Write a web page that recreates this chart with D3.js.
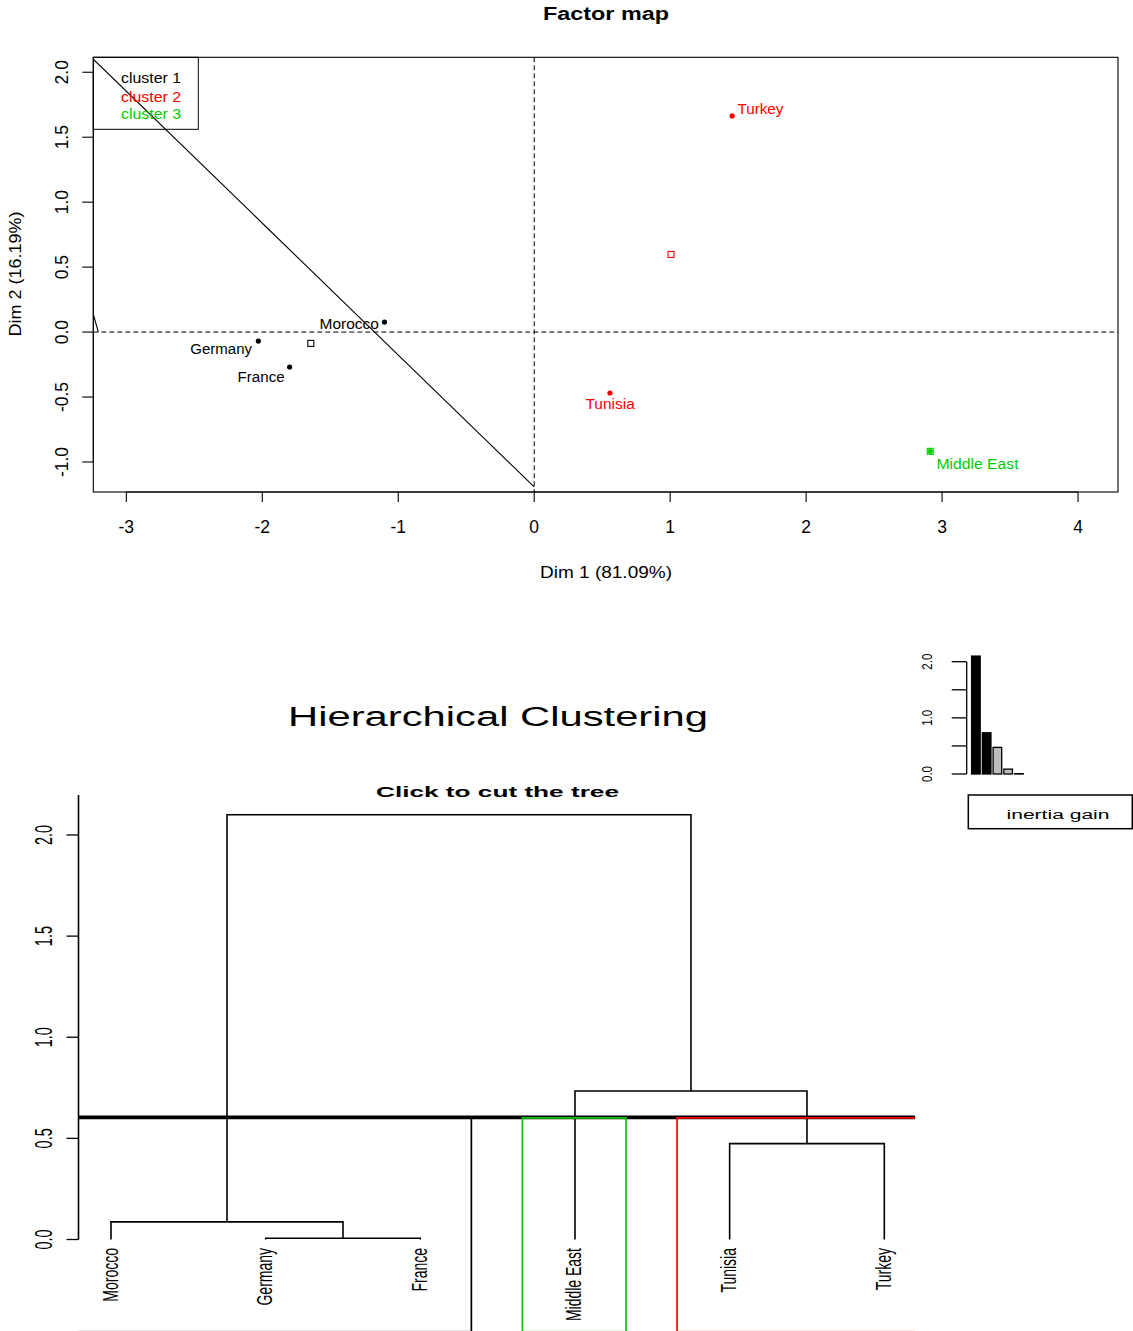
<!DOCTYPE html>
<html>
<head>
<meta charset="utf-8">
<script src="https://cdn.jsdelivr.net/npm/d3@7"></script>
<style>
  html, body { margin: 0; padding: 0; background: #fff; }
  svg { display: block; font-family: "Liberation Sans", Arial, Helvetica, sans-serif; }
</style>
</head>
<body>
<svg id="chart" width="1133" height="1331"></svg>
<script>
// ---------------- DATA ----------------
// Factor map (individuals)
const countries = ["Germany", "France", "Morocco", "Tunisia", "Turkey", "Middle East"];
const dim1 = [-2.029, -1.799, -1.101, 0.557, 1.456, 2.913];
const dim2 = [-0.069, -0.269, 0.077, -0.469, 1.664, -0.918];
const clusterOf = [1, 1, 1, 2, 2, 3];
const clusterNames = ["cluster 1", "cluster 2", "cluster 3"];
const clusterColors = ["#000000", "#FF0000", "#00CD00"];
const xTicks = [-3, -2, -1, 0, 1, 2, 3, 4];
const yTicks = [-1.0, -0.5, 0.0, 0.5, 1.0, 1.5, 2.0];
const dim1Label = "Dim 1 (81.09%)";
const dim2Label = "Dim 2 (16.19%)";
// stray tree-drawing segments on the factor map (data coordinates)
const strayLines = [
  [[-3.243, 2.100], [0.0, -1.192]],
  [[-3.243, 0.138], [-3.206, 0.000]]
];

// Dendrogram
const leafOrder = ["Morocco", "Germany", "France", "Middle East", "Tunisia", "Turkey"];
// R-style merge matrix: negative = leaf (1-based in leafOrder), positive = earlier merge
const mergeLeft  = [-2, -1, -5, -4, 2];
const mergeRight = [-3,  1, -6,  3, 4];
const mergeHeight = [0.006, 0.087, 0.474, 0.734, 2.10];
const cutHeight = 0.604;
const treeTicks = [0.0, 0.5, 1.0, 1.5, 2.0];
// clusters as ranges in leafOrder (1-based)
const cutClusterFirst = [1, 4, 5];
const cutClusterLast  = [3, 4, 6];
const cutClusterColor = [0, 2, 1]; // index into clusterColors

// Inertia gain
const inertiaGain = [2.10, 0.734, 0.474, 0.087, 0.006];
const inertiaTicks = [0.0, 0.5, 1.0, 1.5, 2.0];
const inertiaTickLabels = [0.0, 1.0, 2.0];

// ---------------- DRAW ----------------
const svg = d3.select("#chart");

function fit(sel, len) {
  return sel.attr("textLength", len).attr("lengthAdjust", "spacingAndGlyphs");
}
// R-style numbers with ASCII hyphen-minus
const fmtInt = v => d3.format("d")(v).replace("\u2212", "-");
const fmt1 = v => d3.format(".1f")(v).replace("\u2212", "-");

// ===== Factor map =====
const box = { left: 93.3, right: 1118, top: 57.3, bottom: 492 };
const x = d3.scaleLinear().domain([-3.243, 4.294]).range([box.left, box.right]);
const y = d3.scaleLinear().domain([-1.231, 2.115]).range([box.bottom, box.top]);

svg.append("text").attr("x", 606).attr("y", 20).attr("text-anchor", "middle")
  .attr("font-size", 18).attr("font-weight", "bold").text("Factor map")
  .call(fit, 126);

svg.append("defs").append("clipPath").attr("id", "fmclip")
  .append("rect").attr("x", box.left).attr("y", box.top)
  .attr("width", box.right - box.left).attr("height", box.bottom - box.top);

const fm = svg.append("g");
const plot = fm.append("g").attr("clip-path", "url(#fmclip)");

// dashed reference lines
plot.append("line").attr("x1", box.left).attr("x2", box.right)
  .attr("y1", y(0)).attr("y2", y(0))
  .attr("stroke", "#000").attr("stroke-width", 1).attr("stroke-dasharray", "5,3");
plot.append("line").attr("x1", x(0)).attr("x2", x(0))
  .attr("y1", box.top).attr("y2", box.bottom)
  .attr("stroke", "#000").attr("stroke-width", 1).attr("stroke-dasharray", "5,3");

// legend
const leg = fm.append("g");
leg.append("rect").attr("x", box.left).attr("y", box.top).attr("width", 105).attr("height", 72)
  .attr("fill", "none").attr("stroke", "#000").attr("stroke-width", 1);
const legBase = [82.7, 101.7, 118.7];
clusterNames.forEach((n, i) => {
  leg.append("text").attr("x", 121).attr("y", legBase[i]).attr("font-size", 14)
    .attr("fill", clusterColors[i]).text(n).call(fit, 60);
});

// stray lines
strayLines.forEach(seg => {
  plot.append("line").attr("x1", x(seg[0][0])).attr("y1", y(seg[0][1]))
    .attr("x2", x(seg[1][0])).attr("y2", y(seg[1][1]))
    .attr("stroke", "#000").attr("stroke-width", 1.1);
});

// cluster centres (hollow squares)
clusterNames.forEach((n, ci) => {
  const idx = clusterOf.map((c, i) => c === ci + 1 ? i : -1).filter(i => i >= 0);
  const cx = d3.mean(idx, i => dim1[i]);
  const cy = d3.mean(idx, i => dim2[i]);
  plot.append("rect").attr("x", x(cx) - 3).attr("y", y(cy) - 3).attr("width", 6).attr("height", 6)
    .attr("fill", "none").attr("stroke", clusterColors[ci]).attr("stroke-width", 1.1);
});

// points
countries.forEach((c, i) => {
  plot.append("circle").attr("cx", x(dim1[i])).attr("cy", y(dim2[i])).attr("r", 2.6)
    .attr("fill", clusterColors[clusterOf[i] - 1]);
});

// labels (placement offsets in px, anchor, width)
const labelPlace = {
  "Germany":     { dx: -6.3, dy: 13.3, anchor: "end",    w: 61.7 },
  "France":      { dx: -5.0, dy: 15.3, anchor: "end",    w: 47.0 },
  "Morocco":     { dx: -5.6, dy: 7.3,  anchor: "end",    w: 59.4 },
  "Tunisia":     { dx: 0.2,  dy: 16.0, anchor: "middle", w: 49.3 },
  "Turkey":      { dx: 5.3,  dy: -1.7, anchor: "start",  w: 46.0 },
  "Middle East": { dx: 6.3,  dy: 17.7, anchor: "start",  w: 82.0 }
};
countries.forEach((c, i) => {
  const p = labelPlace[c];
  fm.append("text").attr("x", x(dim1[i]) + p.dx).attr("y", y(dim2[i]) + p.dy)
    .attr("text-anchor", p.anchor).attr("font-size", 14)
    .attr("fill", clusterColors[clusterOf[i] - 1]).text(c).call(fit, p.w);
});

// box
fm.append("rect").attr("x", box.left).attr("y", box.top)
  .attr("width", box.right - box.left).attr("height", box.bottom - box.top)
  .attr("fill", "none").attr("stroke", "#000").attr("stroke-width", 1.1);

// x axis
const xa = fm.append("g");
xa.append("line").attr("x1", x(xTicks[0])).attr("x2", x(xTicks[xTicks.length - 1]))
  .attr("y1", box.bottom).attr("y2", box.bottom).attr("stroke", "#000");
xTicks.forEach(t => {
  xa.append("line").attr("x1", x(t)).attr("x2", x(t)).attr("y1", box.bottom).attr("y2", box.bottom + 10)
    .attr("stroke", "#000").attr("stroke-width", 1.1);
  xa.append("text").attr("x", x(t)).attr("y", 533).attr("text-anchor", "middle")
    .attr("font-size", 17.5).text(fmtInt(t));
});
// y axis
const ya = fm.append("g");
ya.append("line").attr("x1", box.left).attr("x2", box.left)
  .attr("y1", y(yTicks[0])).attr("y2", y(yTicks[yTicks.length - 1])).attr("stroke", "#000");
yTicks.forEach(t => {
  ya.append("line").attr("x1", box.left - 11).attr("x2", box.left).attr("y1", y(t)).attr("y2", y(t))
    .attr("stroke", "#000").attr("stroke-width", 1.1);
  ya.append("text").attr("transform", `translate(68,${y(t)}) scale(1.08,1) rotate(-90)`)
    .attr("text-anchor", "middle").attr("font-size", 17.5).text(fmt1(t));
});
fm.append("text").attr("x", 606).attr("y", 578).attr("text-anchor", "middle")
  .attr("font-size", 17).text(dim1Label).call(fit, 132);
fm.append("text").attr("transform", `translate(20.5,274) rotate(-90)`)
  .attr("text-anchor", "middle").attr("font-size", 17).text(dim2Label).call(fit, 125);

// ===== Hierarchical clustering =====
svg.append("text").attr("x", 498).attr("y", 726).attr("text-anchor", "middle")
  .attr("font-size", 27).text("Hierarchical Clustering").call(fit, 420);

const tree = svg.append("g");
tree.append("text").attr("x", 497.5).attr("y", 797).attr("text-anchor", "middle")
  .attr("font-size", 15.5).attr("font-weight", "bold").text("Click to cut the tree").call(fit, 243);

const lx = d3.scaleLinear().domain([1, 6]).range([111, 884.3]);
const hy = d3.scaleLinear().domain([0, 2]).range([1239.5, 835]);
const plotL = 78.5, plotR = 915;

// axis
tree.append("line").attr("x1", plotL).attr("x2", plotL).attr("y1", 795).attr("y2", hy(0))
  .attr("stroke", "#000").attr("stroke-width", 1.6);
treeTicks.forEach(t => {
  tree.append("line").attr("x1", plotL - 12).attr("x2", plotL).attr("y1", hy(t)).attr("y2", hy(t))
    .attr("stroke", "#000").attr("stroke-width", 1.3);
  tree.append("text").attr("transform", `translate(51.7,${hy(t)}) scale(1.6,1) rotate(-90)`)
    .attr("text-anchor", "middle").attr("font-size", 14.4).text(fmt1(t));
});

// compute node positions
const nodeX = [], nodeH = [];
function childPos(id) {
  if (id < 0) return { x: lx(-id), h: 0 };
  return { x: nodeX[id - 1], h: nodeH[id - 1] };
}
const dendro = tree.append("g").attr("stroke", "#000").attr("stroke-width", 1.6).attr("fill", "none");
mergeHeight.forEach((h, i) => {
  const a = childPos(mergeLeft[i]), b = childPos(mergeRight[i]);
  nodeX.push((a.x + b.x) / 2); nodeH.push(h);
  dendro.append("path").attr("d",
    `M${a.x},${hy(a.h)}V${hy(h)}H${b.x}V${hy(b.h)}`);
});

// leaf labels
leafOrder.forEach((n, i) => {
  tree.append("text").attr("transform", `translate(${lx(i + 1) + 6.5},1248) scale(1.6,1) rotate(-90)`)
    .attr("text-anchor", "end").attr("font-size", 14).text(n);
});

// cut line and cluster rectangles (clipped to plot region)
svg.select("defs").append("clipPath").attr("id", "treeclip")
  .append("rect").attr("x", plotL).attr("y", 780).attr("width", plotR - plotL).attr("height", 560);
const cut = tree.append("g").attr("clip-path", "url(#treeclip)");
cut.append("line").attr("x1", plotL).attr("x2", plotR).attr("y1", hy(cutHeight)).attr("y2", hy(cutHeight))
  .attr("stroke", "#000").attr("stroke-width", 3.6);
const step = lx(2) - lx(1);
cutClusterFirst.forEach((f, k) => {
  const x0 = lx(f) - 0.34 * step, x1 = lx(cutClusterLast[k]) + 0.33 * step;
  const col = clusterColors[cutClusterColor[k]];
  const top = hy(cutHeight) + 0.5;
  cut.append("path").attr("d", `M${x0},1331V${top}H${x1}V1331`)
    .attr("fill", "none").attr("stroke", col).attr("stroke-width", 1.7);
  cut.append("line").attr("x1", x0).attr("x2", x1).attr("y1", 1330.5).attr("y2", 1330.5)
    .attr("stroke", col).attr("stroke-opacity", 0.12).attr("stroke-width", 1);
});

// ===== Inertia gain inset =====
const ins = svg.append("g");
const iy = d3.scaleLinear().domain([0, 2]).range([774, 661.7]);
const ib = d3.scaleBand().domain(d3.range(inertiaGain.length)).range([970.5, 1024.3])
  .paddingInner(0.2).paddingOuter(0.1);
const barFill = ["#000", "#000", "#BEBEBE", "#BEBEBE", "#000"];
inertiaGain.forEach((g, i) => {
  ins.append("rect").attr("x", ib(i)).attr("width", ib.bandwidth())
    .attr("y", iy(g)).attr("height", iy(0) - iy(g))
    .attr("fill", barFill[i]).attr("stroke", "#000").attr("stroke-width", 1.3);
});
const iax = 966.7;
ins.append("line").attr("x1", iax).attr("x2", iax).attr("y1", iy(0)).attr("y2", iy(2))
  .attr("stroke", "#000").attr("stroke-width", 1.3);
inertiaTicks.forEach(t => {
  ins.append("line").attr("x1", iax - 15).attr("x2", iax).attr("y1", iy(t)).attr("y2", iy(t))
    .attr("stroke", "#000").attr("stroke-width", 1.3);
});
inertiaTickLabels.forEach(t => {
  ins.append("text").attr("transform", `translate(932,${iy(t)}) scale(1.2,1) rotate(-90)`)
    .attr("text-anchor", "middle").attr("font-size", 11.5).text(fmt1(t));
});
ins.append("rect").attr("x", 968.3).attr("y", 795).attr("width", 164).attr("height", 33.7)
  .attr("fill", "none").attr("stroke", "#000").attr("stroke-width", 1.5);
ins.append("text").attr("x", 1058).attr("y", 818.5).attr("text-anchor", "middle")
  .attr("font-size", 12.5).text("inertia gain").call(fit, 103);
</script>
</body>
</html>
